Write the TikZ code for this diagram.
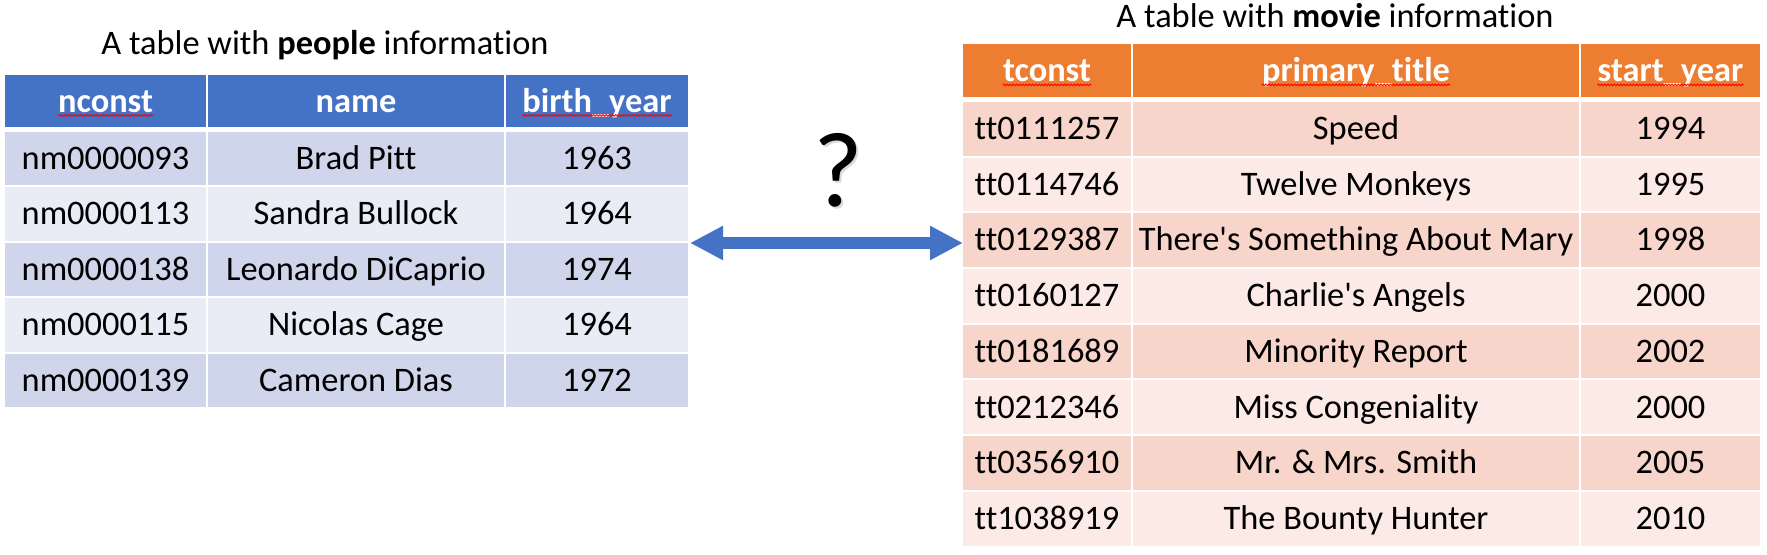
\documentclass[tikz,border=0pt]{standalone}
\usepackage{fontspec}
\setmainfont{Carlito}[Ligatures={NoCommon}]
\usetikzlibrary{arrows.meta,decorations.pathmorphing}

\definecolor{pblue}{HTML}{4472C4}
\definecolor{pband1}{HTML}{CFD5EA}
\definecolor{pband2}{HTML}{E9EBF5}
\definecolor{morange}{HTML}{ED7D31}
\definecolor{mband1}{HTML}{F8D5CB}
\definecolor{mband2}{HTML}{FBEAE6}
\definecolor{arrowblue}{HTML}{4472C4}

\begin{document}
\begin{tikzpicture}[x=0.5pt,y=-0.5pt,
   cell/.style={inner sep=0pt,text height=10.7pt,text depth=0pt,
     font=\fontsize{17.2pt}{20pt}\selectfont},
   hdtxt/.style={cell,text height=11.2pt,text=white,font=\fontsize{17.2pt}{20pt}\selectfont\bfseries},
   lA/.style={minimum width=100.5pt}, lB/.style={minimum width=148pt}, lC/.style={minimum width=91pt},
   rA/.style={minimum width=84pt}, rB/.style={minimum width=223pt}, rC/.style={minimum width=89.5pt},
   phead/.style={cell,minimum height=26pt,fill=pblue},
   prow1/.style={cell,minimum height=26.75pt,fill=pband1},
   prow2/.style={cell,minimum height=26.75pt,fill=pband2},
   mhead/.style={cell,minimum height=26.5pt,fill=morange},
   mrow1/.style={cell,minimum height=26.85pt,fill=mband1},
   mrow2/.style={cell,minimum height=26.85pt,fill=mband2},
   squig/.style={red,line width=0.45pt,decorate,
     decoration={snake,segment length=1.6pt,amplitude=0.45pt}},
   title/.style={inner sep=0pt,font=\fontsize{17.2pt}{20pt}\selectfont},
   dblarrow/.style={arrowblue,line width=6pt,
     {Triangle[length=16.5pt,width=16pt]}-{Triangle[length=16.5pt,width=16pt]}}]
  \useasboundingbox (0,0) rectangle (1767,555);

  % people table
  \node[title] (ptitle) at (325,45) {A table with \textbf{people} information};
  \node[phead,lA] (ph1) at (105.5,101) {};
  \node[phead,lB] (ph2) at (356,101) {};
  \node[phead,lC] (ph3) at (597,101) {};
  \node[hdtxt] (pt1) at (ph1) {nconst};
  \node[hdtxt] (pt2) at (ph2) {name};
  \node[hdtxt] (pt3) at (ph3) {birth\_year};
  \draw[squig] ([yshift=-1.6pt]pt1.base west) -- ([yshift=-1.6pt]pt1.base east);
  \draw[squig] ([yshift=-1.6pt]pt3.base west) -- ([yshift=-1.6pt]pt3.base east);

  \node[prow1,lA] (p1a) at (105.5,158.75) {nm0000093};
  \node[prow1,lB] (p1b) at (356,158.75) {Brad Pitt};
  \node[prow1,lC] (p1c) at (597,158.75) {1963};
  \node[prow2,lA] (p2a) at (105.5,214.25) {nm0000113};
  \node[prow2,lB] (p2b) at (356,214.25) {Sandra Bullock};
  \node[prow2,lC] (p2c) at (597,214.25) {1964};
  \node[prow1,lA] (p3a) at (105.5,269.75) {nm0000138};
  \node[prow1,lB] (p3b) at (356,269.75) {Leonardo DiCaprio};
  \node[prow1,lC] (p3c) at (597,269.75) {1974};
  \node[prow2,lA] (p4a) at (105.5,325.25) {nm0000115};
  \node[prow2,lB] (p4b) at (356,325.25) {Nicolas Cage};
  \node[prow2,lC] (p4c) at (597,325.25) {1964};
  \node[prow1,lA] (p5a) at (105.5,380.75) {nm0000139};
  \node[prow1,lB] (p5b) at (356,380.75) {Cameron Dias};
  \node[prow1,lC] (p5c) at (597,380.75) {1972};

  % movie table
  \node[title] (mtitle) at (1335,16) {A table with \textbf{movie} information};
  \node[mhead,rA] (mh1) at (1047,70.5) {};
  \node[mhead,rB] (mh2) at (1356,70.5) {};
  \node[mhead,rC] (mh3) at (1670.5,70.5) {};
  \node[hdtxt] (mt1) at (mh1) {tconst};
  \node[hdtxt] (mt2) at (mh2) {primary\_title};
  \node[hdtxt] (mt3) at (mh3) {start\_year};
  \draw[squig] ([yshift=-1.6pt]mt1.base west) -- ([yshift=-1.6pt]mt1.base east);
  \draw[squig] ([yshift=-1.6pt]mt2.base west) -- ([yshift=-1.6pt]mt2.base east);
  \draw[squig] ([yshift=-1.6pt]mt3.base west) -- ([yshift=-1.6pt]mt3.base east);

  \node[mrow1,rA] (m1a) at (1047,128.85) {tt0111257};
  \node[mrow1,rB] (m1b) at (1356,128.85) {Speed};
  \node[mrow1,rC] (m1c) at (1670.5,128.85) {1994};
  \node[mrow2,rA] (m2a) at (1047,184.55) {tt0114746};
  \node[mrow2,rB] (m2b) at (1356,184.55) {Twelve Monkeys};
  \node[mrow2,rC] (m2c) at (1670.5,184.55) {1995};
  \node[mrow1,rA] (m3a) at (1047,240.25) {tt0129387};
  \node[mrow1,rB] (m3b) at (1356,240.25) {There\textquotesingle s Something About Mary};
  \node[mrow1,rC] (m3c) at (1670.5,240.25) {1998};
  \node[mrow2,rA] (m4a) at (1047,295.95) {tt0160127};
  \node[mrow2,rB] (m4b) at (1356,295.95) {Charlie\textquotesingle s Angels};
  \node[mrow2,rC] (m4c) at (1670.5,295.95) {2000};
  \node[mrow1,rA] (m5a) at (1047,351.65) {tt0181689};
  \node[mrow1,rB] (m5b) at (1356,351.65) {Minority Report};
  \node[mrow1,rC] (m5c) at (1670.5,351.65) {2002};
  \node[mrow2,rA] (m6a) at (1047,407.35) {tt0212346};
  \node[mrow2,rB] (m6b) at (1356,407.35) {Miss Congeniality};
  \node[mrow2,rC] (m6c) at (1670.5,407.35) {2000};
  \node[mrow1,rA] (m7a) at (1047,463.05) {tt0356910};
  \node[mrow1,rB] (m7b) at (1356,463.05) {Mr. \& Mrs. Smith};
  \node[mrow1,rC] (m7c) at (1670.5,463.05) {2005};
  \node[mrow2,rA] (m8a) at (1047,518.75) {tt1038919};
  \node[mrow2,rB] (m8b) at (1356,518.75) {The Bounty Hunter};
  \node[mrow2,rC] (m8c) at (1670.5,518.75) {2010};

  % question and arrow
  \node[inner sep=0pt,anchor=base,text=black!15,font=\fontsize{53.5pt}{60pt}\selectfont] (qshadow) at (840.5,209) {?};
  \node[inner sep=0pt,anchor=base,font=\fontsize{53.5pt}{60pt}\selectfont] (quest) at (838.5,207) {?};
  \coordinate (aleft) at (690,243);
  \coordinate (aright) at (963,243);
  \draw[dblarrow] (aleft) -- (aright);
\end{tikzpicture}
\end{document}
